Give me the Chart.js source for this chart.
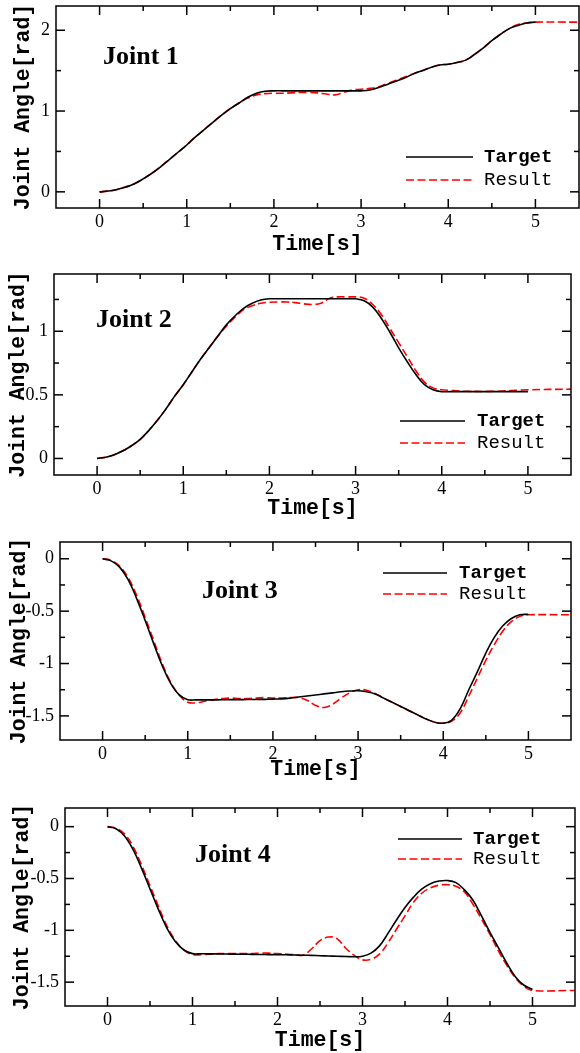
<!DOCTYPE html>
<html>
<head>
<meta charset="utf-8">
<script src="https://cdn.jsdelivr.net/npm/chart.js@4.4.0/dist/chart.umd.min.js"></script>
<style>
  body { margin: 0; background: #fff; width: 580px; height: 1053px; position: relative; overflow: hidden; }
  .panel { position: absolute; left: 0; width: 580px; }
</style>
</head>
<body>
<div class="panel" style="top:0px"><canvas id="joint1" width="580" height="258"></canvas></div>
<div class="panel" style="top:258px"><canvas id="joint2" width="580" height="265"></canvas></div>
<div class="panel" style="top:523px"><canvas id="joint3" width="580" height="262"></canvas></div>
<div class="panel" style="top:785px"><canvas id="joint4" width="580" height="268"></canvas></div>
<script>
// sample times [s]
const time = [0, 0.1, 0.2, 0.3, 0.4, 0.5, 0.6, 0.7, 0.8, 0.9,
  1, 1.1, 1.2, 1.3, 1.4, 1.5, 1.6, 1.7, 1.8, 1.9,
  2, 2.1, 2.2, 2.3, 2.4, 2.5, 2.6, 2.7, 2.8, 2.9,
  3, 3.1, 3.2, 3.3, 3.4, 3.5, 3.6, 3.7, 3.8, 3.9,
  4, 4.1, 4.2, 4.3, 4.4, 4.5, 4.6, 4.7, 4.8, 4.9, 5];
// result keeps its last value until the end of the axis
const timeResult = time.concat([5.5]);

const seriesNames = ['Target', 'Result'];
const jointNames = ['Joint 1', 'Joint 2', 'Joint 3', 'Joint 4'];

// joint angles [rad]
const target1 = [0, 0.01, 0.03, 0.06, 0.1, 0.16, 0.23, 0.31, 0.4, 0.49,
  0.58, 0.68, 0.77, 0.86, 0.95, 1.03, 1.1, 1.17, 1.22, 1.245,
  1.25, 1.25, 1.25, 1.25, 1.25, 1.25, 1.25, 1.25, 1.25, 1.25,
  1.25, 1.26, 1.29, 1.33, 1.37, 1.41, 1.46, 1.5, 1.54, 1.57,
  1.58, 1.6, 1.63, 1.7, 1.78, 1.87, 1.95, 2.02, 2.06, 2.09, 2.1];
const result1 = [0, 0.01, 0.03, 0.06, 0.1, 0.16, 0.23, 0.31, 0.4, 0.49,
  0.58, 0.68, 0.77, 0.86, 0.95, 1.03, 1.1, 1.16, 1.2, 1.215,
  1.22, 1.22, 1.225, 1.23, 1.23, 1.225, 1.21, 1.2, 1.23, 1.26,
  1.27, 1.28, 1.3, 1.34, 1.38, 1.42, 1.46, 1.5, 1.54, 1.57,
  1.58, 1.6, 1.63, 1.7, 1.78, 1.87, 1.95, 2.02, 2.07, 2.09, 2.1, 2.1];

const target2 = [0, 0.01, 0.03, 0.06, 0.1, 0.15, 0.22, 0.3, 0.39, 0.49,
  0.58, 0.68, 0.78, 0.87, 0.96, 1.05, 1.12, 1.18, 1.22, 1.245,
  1.255, 1.255, 1.255, 1.255, 1.255, 1.255, 1.255, 1.255, 1.255, 1.255,
  1.255, 1.24, 1.19, 1.1, 0.99, 0.87, 0.76, 0.66, 0.58, 0.54,
  0.525, 0.525, 0.525, 0.525, 0.525, 0.525, 0.525, 0.525, 0.525, 0.525, 0.525];
const result2 = [0, 0.01, 0.03, 0.06, 0.1, 0.15, 0.22, 0.3, 0.39, 0.49,
  0.58, 0.68, 0.78, 0.87, 0.96, 1.04, 1.11, 1.17, 1.2, 1.22,
  1.228, 1.23, 1.23, 1.225, 1.215, 1.21, 1.22, 1.26, 1.27, 1.27,
  1.27, 1.26, 1.21, 1.13, 1.02, 0.91, 0.8, 0.69, 0.6, 0.555,
  0.54, 0.535, 0.53, 0.528, 0.527, 0.527, 0.528, 0.53, 0.533, 0.537, 0.54, 0.545];

const target3 = [0, -0.02, -0.08, -0.2, -0.38, -0.59, -0.81, -1.02, -1.19, -1.3,
  -1.345, -1.347, -1.347, -1.347, -1.346, -1.345, -1.345, -1.344, -1.343, -1.342,
  -1.34, -1.337, -1.33, -1.32, -1.31, -1.3, -1.29, -1.28, -1.27, -1.263,
  -1.26, -1.27, -1.29, -1.33, -1.37, -1.41, -1.45, -1.49, -1.53, -1.56,
  -1.57, -1.54, -1.43, -1.25, -1.08, -0.9, -0.75, -0.64, -0.57, -0.535, -0.53];
const result3 = [0, -0.015, -0.07, -0.18, -0.35, -0.56, -0.78, -1.0, -1.18, -1.3,
  -1.37, -1.375, -1.36, -1.345, -1.335, -1.33, -1.335, -1.335, -1.33, -1.325,
  -1.33, -1.33, -1.325, -1.325, -1.35, -1.4, -1.42, -1.39, -1.33, -1.28,
  -1.25, -1.255, -1.285, -1.33, -1.37, -1.41, -1.45, -1.49, -1.53, -1.56,
  -1.57, -1.55, -1.47, -1.31, -1.14, -0.97, -0.82, -0.69, -0.6, -0.55, -0.535, -0.535];

const target4 = [0, -0.02, -0.09, -0.22, -0.4, -0.6, -0.8, -0.98, -1.11, -1.19,
  -1.225, -1.226, -1.227, -1.228, -1.229, -1.23, -1.231, -1.232, -1.233, -1.234,
  -1.235, -1.236, -1.238, -1.24, -1.242, -1.245, -1.247, -1.25, -1.252, -1.255,
  -1.25, -1.22, -1.15, -1.03, -0.9, -0.78, -0.68, -0.6, -0.55, -0.525,
  -0.52, -0.54, -0.61, -0.71, -0.86, -1.02, -1.17, -1.32, -1.45, -1.53, -1.57];
const result4 = [0, -0.015, -0.07, -0.19, -0.37, -0.57, -0.77, -0.96, -1.1, -1.19,
  -1.235, -1.235, -1.23, -1.225, -1.225, -1.225, -1.225, -1.225, -1.22, -1.22,
  -1.225, -1.23, -1.235, -1.24, -1.18, -1.1, -1.065, -1.08, -1.17, -1.24,
  -1.285, -1.28, -1.23, -1.12, -0.99, -0.86, -0.73, -0.64, -0.59, -0.565,
  -0.56, -0.575, -0.63, -0.75, -0.89, -1.04, -1.2, -1.34, -1.46, -1.54, -1.58, -1.58];

// tick values
const xTicks = [0, 1, 2, 3, 4, 5];
const xMinor = [0.5, 1.5, 2.5, 3.5, 4.5];
const yTicks1 = [0, 1, 2];
const yMinor1 = [0.5, 1.5];
const yTicks2 = [0, 0.5, 1];
const yMinor2 = [0.25, 0.75, 1.25];
const yTicks3 = [0, -0.5, -1, -1.5];
const yMinor3 = [-0.25, -0.75, -1.25];

// page layout of each panel (pixels, page coordinates)
const panels = [
  { id: 'joint1', top: 0, height: 258, area: [56, 6, 579, 208], yRange: [-0.2, 2.3],
    xTitleY: 245, yTitleX: 24, label: [103, 64], legend: [406, 473, 157, 180, 484],
    target: target1, result: result1, yTicks: yTicks1, yMinor: yMinor1 },
  { id: 'joint2', top: 258, height: 265, area: [54, 274, 571, 475], yRange: [-0.13, 1.45],
    xTitleY: 509, yTitleX: 19, label: [96, 327], legend: [400, 465, 421, 443, 477],
    target: target2, result: result2, yTicks: yTicks2, yMinor: yMinor2 },
  { id: 'joint3', top: 523, height: 262, area: [60, 542, 571, 740], yRange: [-1.73, 0.16],
    xTitleY: 770, yTitleX: 20, label: [202, 598], legend: [383, 447, 573, 594, 459],
    target: target3, result: result3, yTicks: yTicks3, yMinor: yMinor3 },
  { id: 'joint4', top: 785, height: 268, area: [65, 808, 575, 1006], yRange: [-1.73, 0.18],
    xTitleY: 1041, yTitleX: 23, label: [195, 862], legend: [398, 462, 839, 859, 473],
    target: target4, result: result4, yTicks: yTicks3, yMinor: yMinor3 }
];

const SERIF = "'Liberation Serif', 'Times New Roman', serif";
const MONO = "'Liberation Mono', 'Courier New', monospace";
const TITLE_SIZE = 21.5;
const TITLE_LH = 1.2;

const toPoints = (xs, ys) => xs.map((t, i) => ({ x: t, y: ys[i] }));

// frame, inward ticks on all four sides, panel name and legend
function decor(p, idx) {
  return {
    id: 'decor',
    afterDraw(chart) {
      const { ctx, chartArea: a, scales: { x, y } } = chart;
      const seg = (x1, y1, x2, y2) => { ctx.beginPath(); ctx.moveTo(x1, y1); ctx.lineTo(x2, y2); ctx.stroke(); };
      ctx.save();
      ctx.strokeStyle = '#000';
      ctx.lineWidth = 1.5;
      ctx.strokeRect(a.left, a.top, a.right - a.left, a.bottom - a.top);

      const xMarks = (vals, len) => vals.forEach(v => {
        const px = x.getPixelForValue(v);
        seg(px, a.bottom, px, a.bottom - len);
        seg(px, a.top, px, a.top + len);
      });
      const yMarks = (vals, len) => vals.forEach(v => {
        const py = y.getPixelForValue(v);
        seg(a.left, py, a.left + len, py);
        seg(a.right, py, a.right - len, py);
      });
      xMarks(xTicks, 9);
      xMarks(xMinor, 5);
      yMarks(p.yTicks, 9);
      yMarks(p.yMinor, 5);

      // panel name
      ctx.fillStyle = '#000';
      ctx.font = 'bold 26px ' + SERIF;
      ctx.textAlign = 'left';
      ctx.textBaseline = 'alphabetic';
      ctx.fillText(jointNames[idx], p.label[0], p.label[1] - p.top);

      // legend
      const [lx1, lx2, ly1, ly2, tx] = p.legend;
      chart.data.datasets.forEach((ds, i) => {
        const ly = (i === 0 ? ly1 : ly2) - p.top;
        ctx.strokeStyle = ds.borderColor;
        ctx.lineWidth = ds.borderWidth;
        ctx.setLineDash(ds.borderDash || []);
        seg(lx1, ly, lx2, ly);
        ctx.setLineDash([]);
        ctx.fillStyle = '#000';
        ctx.font = (i === 0 ? 'bold ' : '') + '19px ' + MONO;
        ctx.textBaseline = 'middle';
        ctx.fillText(ds.label, tx, ly);
      });
      ctx.restore();
    }
  };
}

panels.forEach((p, idx) => {
  const [left, top, right, bottom] = p.area;
  const canvasBottom = p.top + p.height;
  const half = TITLE_SIZE * TITLE_LH / 2;

  new Chart(document.getElementById(p.id), {
    type: 'line',
    data: {
      datasets: [
        {
          label: seriesNames[0],
          data: toPoints(time, p.target),
          borderColor: '#000000',
          borderWidth: 1.6,
          pointRadius: 0,
          tension: 0.4,
          fill: false
        },
        {
          label: seriesNames[1],
          data: toPoints(timeResult, p.result),
          borderColor: '#ff0000',
          borderWidth: 1.6,
          borderDash: [8, 3.5],
          pointRadius: 0,
          tension: 0.4,
          fill: false
        }
      ]
    },
    options: {
      responsive: false,
      animation: false,
      events: [],
      layout: { padding: { left: 0, top: top - p.top, right: 580 - right, bottom: 0 } },
      plugins: { legend: { display: false }, tooltip: { enabled: false } },
      scales: {
        x: {
          type: 'linear',
          min: -0.5,
          max: 5.5,
          afterBuildTicks: s => { s.ticks = xTicks.map(v => ({ value: v })); },
          afterFit: s => {
            s.height = canvasBottom - bottom;
            s.paddingLeft = 0;
            s.paddingRight = 0;
          },
          grid: { display: false, drawTicks: false },
          border: { display: false },
          ticks: {
            color: '#000',
            font: { family: SERIF, size: 18 },
            padding: 3,
            maxRotation: 0,
            autoSkip: false,
            callback: v => String(v)
          },
          title: {
            display: true,
            text: 'Time[s]',
            color: '#000',
            font: { family: MONO, size: TITLE_SIZE, weight: 'bold', lineHeight: TITLE_LH },
            padding: { top: 0, bottom: Math.max(0, canvasBottom - half - p.xTitleY) }
          }
        },
        y: {
          type: 'linear',
          min: p.yRange[0],
          max: p.yRange[1],
          afterBuildTicks: s => { s.ticks = p.yTicks.map(v => ({ value: v })); },
          afterFit: s => {
            s.width = left;
            s.paddingTop = 0;
            s.paddingBottom = 0;
          },
          grid: { display: false, drawTicks: false },
          border: { display: false },
          ticks: {
            color: '#000',
            font: { family: SERIF, size: 18 },
            padding: 6,
            autoSkip: false,
            callback: v => String(v)
          },
          title: {
            display: true,
            text: 'Joint Angle[rad]',
            color: '#000',
            font: { family: MONO, size: TITLE_SIZE, weight: 'bold', lineHeight: TITLE_LH },
            padding: { top: p.yTitleX - half, bottom: 0 }
          }
        }
      }
    },
    plugins: [decor(p, idx)]
  });
});
</script>
</body>
</html>
